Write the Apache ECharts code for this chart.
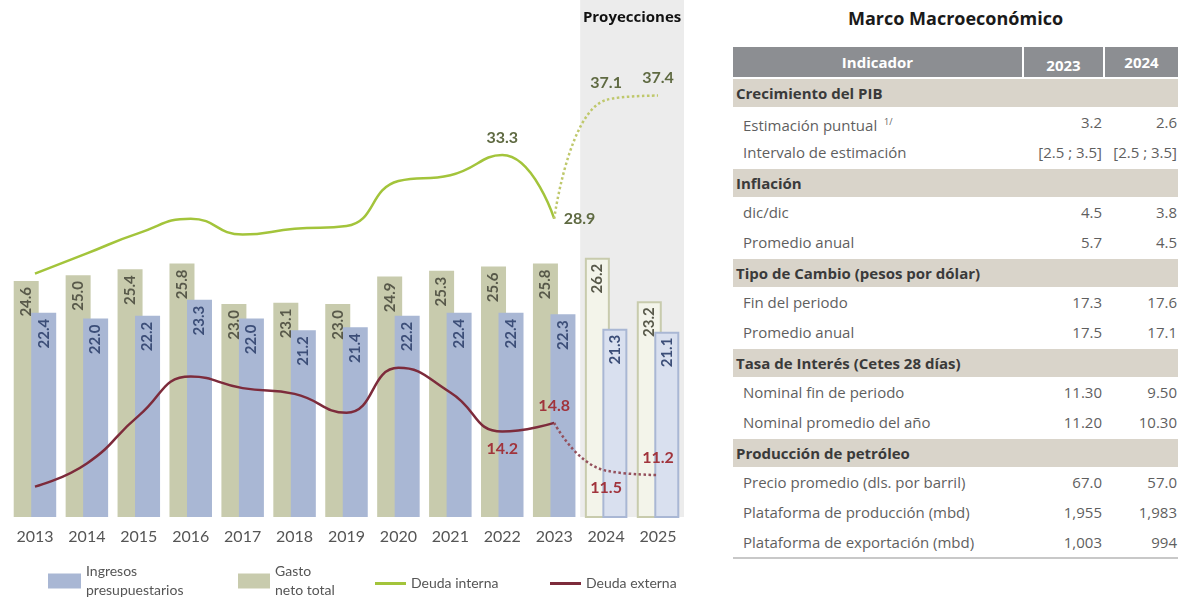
<!DOCTYPE html>
<html>
<head>
<meta charset="utf-8">
<script src="https://cdn.jsdelivr.net/npm/echarts@6/dist/echarts.min.js"></script>
<style>
  html, body { margin: 0; padding: 0; background: #fff; }
  #chart { position: absolute; left: 0; top: 0; width: 700px; height: 600px; }
  #marco { position: absolute; left: 733px; top: 0; width: 445px; font-family: "Open Sans", sans-serif; }
  #marco .titulo { text-align: center; font-weight: 700; font-size: 18px; color: #1a1a1a; height: 36px; line-height: 36px; margin-bottom: 11px; }
  #marco .fila { position: relative; height: 30px; line-height: 30px; font-size: 15px; color: #5f5f5f; }
  #marco .head { background: #8c8e92; color: #fff; font-weight: 700; }
  #marco .head span { position: absolute; top: 0; text-align: center; }
  #marco .head .sep { width: 2px; height: 30px; background: #fff; }
  #marco .seccion { background: #d9d4ca; color: #3a3a3a; font-weight: 700; border-top: 2px solid #fff; height: 28px; line-height: 28px; padding-left: 3px; }
  #marco .item span { position: absolute; white-space: nowrap; }
  #marco sup { font-size: 9px; vertical-align: 6px; margin-left: 3px; }
  #marco .fin { border-top: 2px solid #c8c8c8; }
</style>
</head>
<body>
<div id="chart"></div>
<div id="marco"></div>
<script>
// años y series del gráfico (% del PIB)
const YEARS = ["2013", "2014", "2015", "2016", "2017", "2018", "2019", "2020", "2021", "2022", "2023", "2024", "2025"];
const GASTO = [24.6, 25.0, 25.4, 25.8, 23.0, 23.1, 23.0, 24.9, 25.3, 25.6, 25.8, 26.2, 23.2];
const INGRESOS = [22.4, 22.0, 22.2, 23.3, 22.0, 21.2, 21.4, 22.2, 22.4, 22.4, 22.3, 21.3, 21.1];
const DEUDA_INTERNA = [25.1, 26.5, 27.9, 28.9, 27.8, 28.2, 28.4, 31.5, 31.9, 33.3, 28.9, 37.1, 37.4];
const DEUDA_EXTERNA = [10.4, 12.0, 15.3, 18.0, 17.2, 16.8, 15.5, 18.6, 16.9, 14.2, 14.8, 11.5, 11.2];
const LAST_OBS = 10; // 2023, último año observado

// tabla Marco Macroeconómico
const TABLE_HEAD = ["Indicador", "2023", "2024"];
const TABLE_ROWS = [
  ["Crecimiento del PIB"],
  ["Estimación puntual <sup>1/</sup>", "3.2", "2.6"],
  ["Intervalo de estimación", "[2.5 ; 3.5]", "[2.5 ; 3.5]"],
  ["Inflación"],
  ["dic/dic", "4.5", "3.8"],
  ["Promedio anual", "5.7", "4.5"],
  ["Tipo de Cambio (pesos por dólar)"],
  ["Fin del periodo", "17.3", "17.6"],
  ["Promedio anual", "17.5", "17.1"],
  ["Tasa de Interés (Cetes 28 días)"],
  ["Nominal fin de periodo", "11.30", "9.50"],
  ["Nominal promedio del año", "11.20", "10.30"],
  ["Producción de petróleo"],
  ["Precio promedio (dls. por barril)", "67.0", "57.0"],
  ["Plataforma de producción (mbd)", "1,955", "1,983"],
  ["Plataforma de exportación (mbd)", "1,003", "994"],
];

// --- tabla ---
let html = '<div class="titulo">Marco Macroeconómico</div>';
html += '<div class="fila head">' +
  '<span style="left:0;width:289px">' + TABLE_HEAD[0] + '</span>' +
  '<span class="sep" style="left:289px"></span>' +
  '<span style="left:291px;width:79px;top:3px">' + TABLE_HEAD[1] + '</span>' +
  '<span class="sep" style="left:370px"></span>' +
  '<span style="left:372px;width:73px">' + TABLE_HEAD[2] + '</span></div>';
TABLE_ROWS.forEach((r) => {
  if (r.length === 1) {
    html += '<div class="fila seccion">' + r[0] + '</div>';
  } else {
    html += '<div class="fila item"><span style="left:10px">' + r[0] + '</span>' +
      '<span style="right:76px">' + r[1] + '</span>' +
      '<span style="right:1px">' + r[2] + '</span></div>';
  }
});
html += '<div class="fin"></div>';
document.getElementById("marco").innerHTML = html;

// --- gráfico ---
const C_GASTO = "#c8cbad";
const C_INGRESOS = "#a9b7d4";
const C_INTERNA = "#a3c43b";
const C_EXTERNA = "#7d2b3b";

const barData = (vals, color, fillProj) =>
  vals.map((v, i) => i > LAST_OBS
    ? { value: v, itemStyle: { color: fillProj, borderColor: color, borderWidth: 2 } }
    : v);

const labelAt = {
  interna: { 9: "top", 10: "right", 11: "top", 12: "top" },
  externa: { 9: "bottom", 10: "top", 11: "bottom", 12: "top" },
};

// solid: observado hasta 2023; si no, tramo proyectado 2023-2025
const lineData = (vals, key, solid) =>
  vals.map((v, i) => {
    const inRange = solid ? i <= LAST_OBS : i >= LAST_OBS;
    if (!inRange) return null;
    const lab = solid ? labelAt[key][i] : (i > LAST_OBS && labelAt[key][i]);
    return lab ? { value: v, label: { show: true, position: lab } } : v;
  });

const barLabel = (color) => ({
  show: true,
  rotate: 90,
  position: "insideTop",
  align: "right",
  verticalAlign: "middle",
  distance: 6,
  fontFamily: "Lato",
  fontWeight: "bold",
  fontSize: 15,
  color: color,
  formatter: (p) => p.value.toFixed(1),
});

const lineLabel = (color) => ({
  fontFamily: "Lato",
  fontWeight: "bold",
  fontSize: 16,
  color: color,
  distance: 9,
  formatter: (p) => p.value.toFixed(1),
});

const lineSeries = (name, vals, key, solid, color, labColor) => ({
  name: name,
  type: "line",
  smooth: 0.5,
  symbol: "circle",
  symbolSize: 1,
  showSymbol: true,
  z: 5,
  lineStyle: { color: color, width: 2.5, type: solid ? "solid" : "dotted" },
  itemStyle: { color: "rgba(0,0,0,0)" },
  label: lineLabel(labColor),
  data: lineData(vals, key, solid),
});

const chart = echarts.init(document.getElementById("chart"), null, { renderer: "canvas" });

const legendText = { color: "#555", fontSize: 14, fontFamily: "Lato", lineHeight: 19 };

chart.setOption({
  animation: false,
  grid: { left: 9, right: 16, top: 0, bottom: 83 },
  xAxis: [
    {
      type: "category",
      data: YEARS,
      axisLine: { show: false },
      axisTick: { show: false },
      axisLabel: { color: "#555", fontSize: 16, fontFamily: "Lato", margin: 12 },
    },
    { type: "value", min: -0.5, max: 12.5, show: false },
  ],
  yAxis: { type: "value", min: 8.3, max: 44, show: false },
  legend: [
    { left: 43, top: 557, itemWidth: 33, itemHeight: 15, icon: "rect", data: ["Ingresos presupuestarios"],
      formatter: () => "Ingresos\npresupuestarios", textStyle: legendText,
      itemStyle: { color: C_INGRESOS } },
    { left: 233, top: 557, itemWidth: 32, itemHeight: 15, icon: "rect", data: ["Gasto neto total"],
      formatter: () => "Gasto\nneto total", textStyle: legendText,
      itemStyle: { color: C_GASTO } },
    { left: 370, top: 569, itemWidth: 31, itemHeight: 3, icon: "rect", data: ["Deuda interna"], textStyle: legendText,
      itemStyle: { color: C_INTERNA } },
    { left: 545, top: 569, itemWidth: 31, itemHeight: 3, icon: "rect", data: ["Deuda externa"], textStyle: legendText,
      itemStyle: { color: C_EXTERNA } },
  ],
  series: [
    {
      name: "proyecciones",
      type: "line",
      xAxisIndex: 1,
      data: [],
      z: 0,
      silent: true,
      markArea: {
        silent: true,
        itemStyle: { color: "#ececec" },
        label: {
          show: true, position: "insideTop", distance: 10,
          color: "#111", fontWeight: "bold", fontSize: 15, fontFamily: "Open Sans",
        },
        data: [[{ name: "Proyecciones", xAxis: 10.5, yAxis: 44 }, { xAxis: 12.5, yAxis: 8.3 }]],
      },
    },
    {
      name: "Gasto neto total",
      type: "bar",
      barWidth: 25,
      barGap: "-30%",
      itemStyle: { color: C_GASTO },
      label: barLabel("#58594a"),
      data: barData(GASTO, C_GASTO, "#f3f4ea"),
    },
    {
      name: "Ingresos presupuestarios",
      type: "bar",
      barWidth: 25,
      itemStyle: { color: C_INGRESOS },
      label: barLabel("#3c4e78"),
      data: barData(INGRESOS, C_INGRESOS, "#d9e0ef"),
    },
    lineSeries("Deuda interna", DEUDA_INTERNA, "interna", true, C_INTERNA, "#5f6a42"),
    lineSeries("Deuda interna proy", DEUDA_INTERNA, "interna", false, "#bfc86c", "#5f6a42"),
    lineSeries("Deuda externa", DEUDA_EXTERNA, "externa", true, C_EXTERNA, "#a1343c"),
    lineSeries("Deuda externa proy", DEUDA_EXTERNA, "externa", false, "#94505c", "#a1343c"),
  ],
});
</script>
</body>
</html>
